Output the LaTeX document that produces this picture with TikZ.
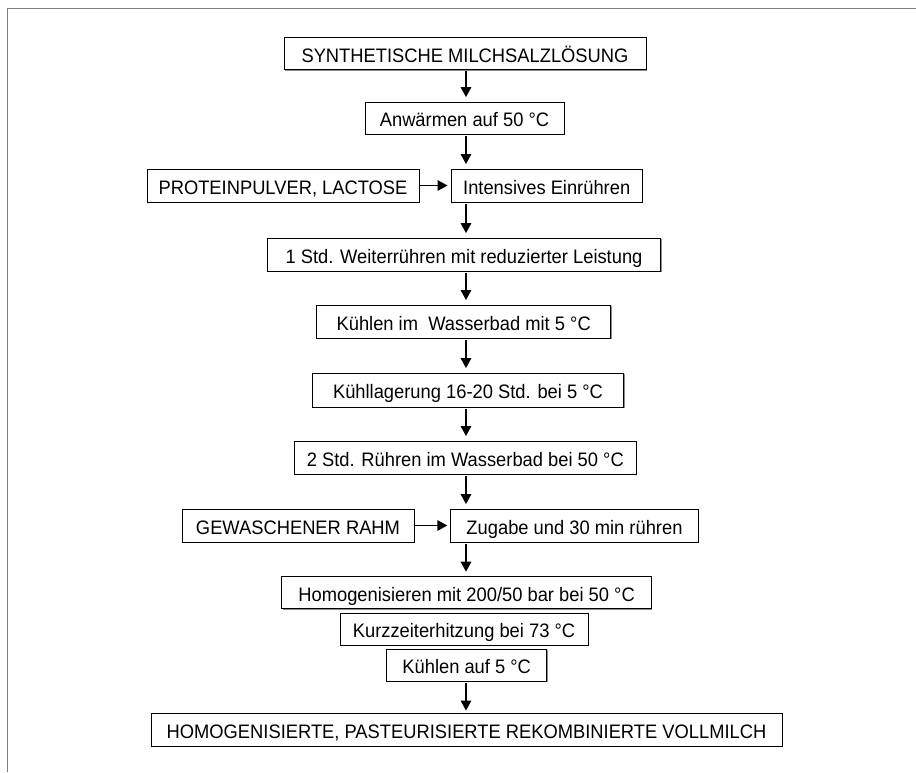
\documentclass[tikz,border=0pt]{standalone}
\usepackage{fontspec}
\setmainfont[FakeStretch=0.94]{Liberation Sans}
\usetikzlibrary{arrows.meta,shadows}
\begin{document}
\begin{tikzpicture}[x=1pt,y=-1pt,
  stepbox/.style={draw=black, line width=0.8pt, fill=white, inner sep=0pt, anchor=center,
    font=\fontsize{19.5}{22}\selectfont, text height=17pt, text depth=0pt,
    drop shadow={shadow xshift=1pt, shadow yshift=-1pt, fill=black!45, opacity=1}},
  arr/.style={line width=1.5pt, -{Triangle[width=10.5pt,length=10pt]}, shorten >=4.5pt, shorten <=1.5pt},
  frame/.style={draw=black!50, line width=1pt}]
\useasboundingbox (0,0) rectangle (916,772);
\coordinate (fa) at (7,772);
\coordinate (fb) at (7,8);
\coordinate (fc) at (916,8);
\draw[frame] (fa) -- (fb) -- (fc);

\node[stepbox, minimum width=362pt, minimum height=32pt] (s1) at (465,53.5) {SYNTHETISCHE MILCHSALZLÖSUNG};
\node[stepbox, minimum width=199pt, minimum height=32pt] (s2) at (464.5,118) {Anwärmen auf 50 °C};
\node[stepbox, minimum width=272pt, minimum height=33pt] (pin) at (283,185.5) {PROTEINPULVER, LACTOSE};
\node[stepbox, minimum width=191.5pt, minimum height=33pt] (s3) at (546.7,185.5) {Intensives Einrühren};
\node[stepbox, minimum width=393pt, minimum height=33pt] (s4) at (464,254.5) {1 Std. Weiterrühren mit reduzierter Leistung};
\node[stepbox, minimum width=294pt, minimum height=33pt] (s5) at (463.7,321.5) {Kühlen im\ \ Wasserbad mit 5 °C};
\node[stepbox, minimum width=311pt, minimum height=34pt] (s6) at (468,390) {Kühllagerung 16-20 Std. bei 5 °C};
\node[stepbox, minimum width=342pt, minimum height=33pt] (s7) at (465.3,457.5) {2 Std. Rühren im Wasserbad bei 50 °C};
\node[stepbox, minimum width=232pt, minimum height=33pt] (rin) at (298,525.5) {GEWASCHENER RAHM};
\node[stepbox, minimum width=247.5pt, minimum height=33pt] (s8) at (574.5,525.5) {Zugabe und 30 min rühren};
\node[stepbox, minimum width=369.6pt, minimum height=32pt] (s9) at (466.6,592.6) {Homogenisieren mit 200/50 bar bei 50 °C};
\node[stepbox, minimum width=248pt, minimum height=32pt] (s10) at (464,629) {Kurzzeiterhitzung bei 73 °C};
\node[stepbox, minimum width=160pt, minimum height=32pt] (s11) at (466.7,665) {Kühlen auf 5 °C};
\node[stepbox, minimum width=631pt, minimum height=33pt] (s12) at (466.5,729.5) {HOMOGENISIERTE, PASTEURISIERTE REKOMBINIERTE VOLLMILCH};

\coordinate (col) at (466,0);

\draw[arr] (s1.south -| col) -- (s2.north -| col);
\draw[arr] (s2.south -| col) -- (s3.north -| col);
\draw[arr, shorten <=0pt, shorten >=3pt] (pin.east) -- (s3.west);
\draw[arr] (s3.south -| col) -- (s4.north -| col);
\draw[arr] (s4.south -| col) -- (s5.north -| col);
\draw[arr] (s5.south -| col) -- (s6.north -| col);
\draw[arr] (s6.south -| col) -- (s7.north -| col);
\draw[arr] (s7.south -| col) -- (s8.north -| col);
\draw[arr, shorten <=0pt, shorten >=3pt] (rin.east) -- (s8.west);
\draw[arr] (s8.south -| col) -- (s9.north -| col);
\draw[arr, line width=1.3pt, shorten >=2pt] (s11.south -| col) -- (s12.north -| col);
\end{tikzpicture}
\end{document}
